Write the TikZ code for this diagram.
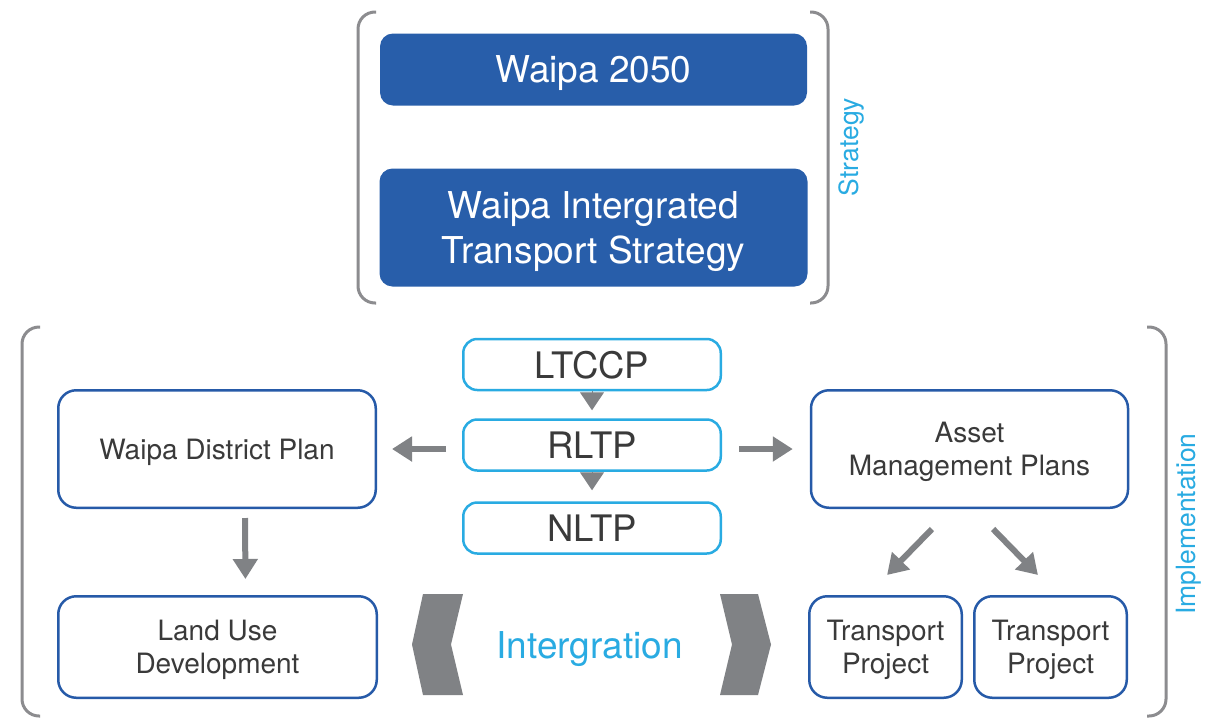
\documentclass[tikz,border=0pt]{standalone}
\usepackage{fontspec}
\setmainfont{TeX Gyre Heros}
\usetikzlibrary{arrows.meta}
\definecolor{wdark}{RGB}{40,94,170}
\definecolor{wblue}{RGB}{38,90,168}
\definecolor{wcyan}{RGB}{41,171,226}
\definecolor{wgray}{RGB}{128,130,133}
\definecolor{wbrk}{RGB}{140,140,143}
\definecolor{wtext}{RGB}{58,58,58}
\begin{document}
\begin{tikzpicture}[x=1pt,y=-1pt,
  darkbox/.style={rectangle, rounded corners=13pt, fill=wdark, draw=none, text=white, align=center, inner sep=0pt, text depth=0pt, font=\fontsize{37}{45}\selectfont},
  cyanbox/.style={rectangle, rounded corners=14pt, draw=wcyan, line width=2.5pt, fill=white, text=wtext, inner sep=0pt, text depth=0pt, minimum width=257.5pt, minimum height=51pt, font=\fontsize{36.5}{44}\selectfont},
  bluebox/.style={rectangle, rounded corners=18pt, draw=wblue, line width=2.5pt, text=wtext, align=center, inner sep=0pt, text depth=0pt, font=\fontsize{28}{33}\selectfont},
  bracket/.style={draw=wbrk, line width=3pt, rounded corners=17pt},
  garrow/.style={draw=wgray, line width=6pt, -{Triangle[length=20pt,width=24pt]}},
  gtri/.style={draw=wgray, line width=1pt, -{Triangle[length=18pt,width=24pt]}},
  sidelabel/.style={text=wcyan, rotate=90, inner sep=0pt, font=\fontsize{26.5}{30}\selectfont}
]
\useasboundingbox (0,0) rectangle (1209,718);
\fill[white] (0,0) rectangle (1209,718);

% brackets
\draw[bracket] (376,12) -- (358,12) -- (358,303) -- (376,303);
\draw[bracket] (810,12) -- (828,12) -- (828,303) -- (810,303);
\draw[bracket] (40,327) -- (22,327) -- (22,716) -- (40,716);
\draw[bracket] (1147,327) -- (1166,327) -- (1166,716) -- (1147,716);

\node[sidelabel] (strat) at (851,147) {Strategy};
\node[sidelabel] (impl) at (1189,524) {Implementation};

% strategy boxes
\node[darkbox, minimum width=427pt, minimum height=72pt] (w2050) at (593.5,69.5) {Waipa 2050};
\node[darkbox, minimum width=428pt, minimum height=118pt] (wits) at (593.5,227.5) {Waipa Intergrated\\Transport Strategy};

% centre column
\node[cyanbox] (ltccp) at (592,364.5) {LTCCP};
\node[cyanbox] (rltp) at (592,445) {RLTP};
\node[cyanbox] (nltp) at (592,528) {NLTP};

% side boxes
\node[bluebox, minimum width=317.5pt, minimum height=117.5pt] (wdp) at (217,449) {Waipa District Plan};
\node[bluebox, minimum width=318.5pt, minimum height=101.5pt] (lud) at (217.5,647) {Land Use\\Development};
\node[bluebox, minimum width=317pt, minimum height=117.5pt] (amp) at (969.5,449) {Asset\\Management Plans};
\node[bluebox, minimum width=152.5pt, minimum height=101.5pt] (tp1) at (885.5,647) {Transport\\Project};
\node[bluebox, minimum width=152.5pt, minimum height=101.5pt] (tp2) at (1050.5,647) {Transport\\Project};

% connectors
\draw[gtri, shorten >=8pt] (ltccp.south) -- (rltp.north);
\draw[gtri, shorten >=11pt] (rltp.south) -- (nltp.north);
\draw[garrow, shorten <=16pt, shorten >=15pt] (rltp.west |- wdp.east) -- (wdp.east);
\draw[garrow, shorten <=17pt, shorten >=17pt] (rltp.east |- amp.west) -- (amp.west);
\draw[garrow, shorten <=9pt, shorten >=16pt] ([xshift=28pt]wdp.south) -- ([xshift=28pt]lud.north);
\draw[garrow, shorten <=28pt, shorten >=28pt] ([xshift=-18pt]amp.south) -- ([xshift=-18pt]tp1.north);
\draw[garrow, shorten <=28pt, shorten >=28pt] ([xshift=4pt]amp.south) -- ([xshift=7pt]tp2.north);

% integration chevrons
\fill[wgray] (423,594) -- (463,594) -- (451,644.5) -- (463,695) -- (423,695) -- (412,644.5) -- cycle;
\fill[wgray] (720,594) -- (758,594) -- (771,644.5) -- (758,695) -- (720,695) -- (732,644.5) -- cycle;
\node[text=wcyan, inner sep=0pt, anchor=base, font=\fontsize{37}{40}\selectfont] (integ) at (589.5,658) {Intergration};
\end{tikzpicture}
\end{document}
